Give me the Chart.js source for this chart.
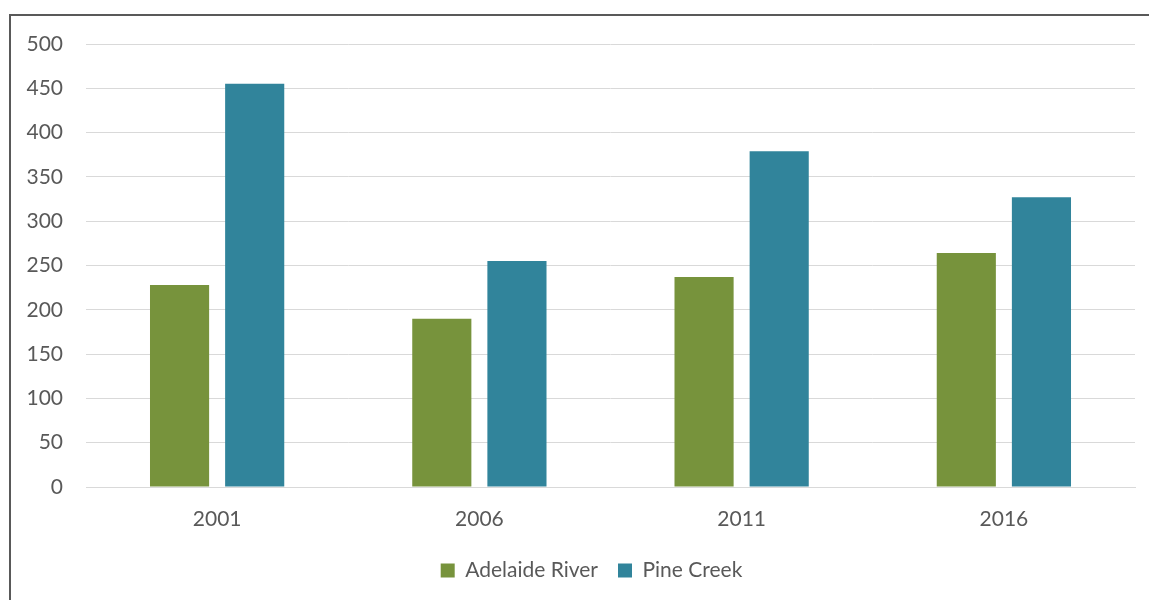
<!DOCTYPE html>
<html>
<head>
<meta charset="utf-8">
<script src="https://cdn.jsdelivr.net/npm/chart.js@4"></script>
<style>
  html, body { margin: 0; padding: 0; background: #fff; overflow: hidden; }
  #frame {
    position: absolute; left: 9px; top: 14px; width: 1160px; height: 600px;
    border-left: 2px solid #595959; border-top: 2px solid #595959;
  }
  #wrap { position: absolute; left: 0; top: 0; width: 1149px; height: 600px; }
</style>
</head>
<body>
<div id="frame"></div>
<div id="wrap"><canvas id="popChart"></canvas></div>
<script>
const years = ['2001', '2006', '2011', '2016'];
const adelaideRiver = [228, 190, 237, 264];
const pineCreek = [455, 255, 379, 327];
const yTicks = [0, 50, 100, 150, 200, 250, 300, 350, 400, 450, 500];

const textColor = '#595959';
const gridColor = '#d9d9d9';
const font = { family: 'Lato, "Open Sans", sans-serif', size: 21 };

// nudge the legend so it sits centred under the plot area
const legendShift = {
    id: 'legendShift',
    afterUpdate(chart) {
        chart.legend.left += 24;
        chart.legend.right += 24;
    }
};

new Chart(document.getElementById('popChart'), {
    type: 'bar',
    data: {
        labels: years,
        datasets: [
            {
                label: 'Adelaide River',
                data: adelaideRiver,
                backgroundColor: '#77933C',
                categoryPercentage: 0.573,
                barPercentage: 0.787
            },
            {
                label: 'Pine Creek',
                data: pineCreek,
                backgroundColor: '#31849B',
                categoryPercentage: 0.573,
                barPercentage: 0.787
            }
        ]
    },
    plugins: [legendShift],
    options: {
        responsive: true,
        maintainAspectRatio: false,
        animation: false,
        layout: { padding: { top: 44, right: 14, left: 0, bottom: 9 } },
        plugins: {
            legend: {
                position: 'bottom',
                labels: {
                    color: textColor,
                    font: font,
                    boxWidth: 14,
                    boxHeight: 14,
                    padding: 20
                }
            },
            tooltip: { enabled: false }
        },
        scales: {
            x: {
                grid: { display: false, drawTicks: false },
                border: { display: true, color: gridColor, width: 1 },
                ticks: { color: textColor, font: font, padding: 20 },
                afterFit: scale => { scale.height = 53; }
            },
            y: {
                min: 0,
                max: 500,
                afterBuildTicks: scale => { scale.ticks = yTicks.map(v => ({ value: v })); },
                grid: { color: gridColor, lineWidth: 1, drawTicks: false },
                border: { display: false },
                ticks: { color: textColor, font: font, padding: 23 },
                afterFit: scale => { scale.width = 86; }
            }
        }
    }
});
</script>
</body>
</html>
